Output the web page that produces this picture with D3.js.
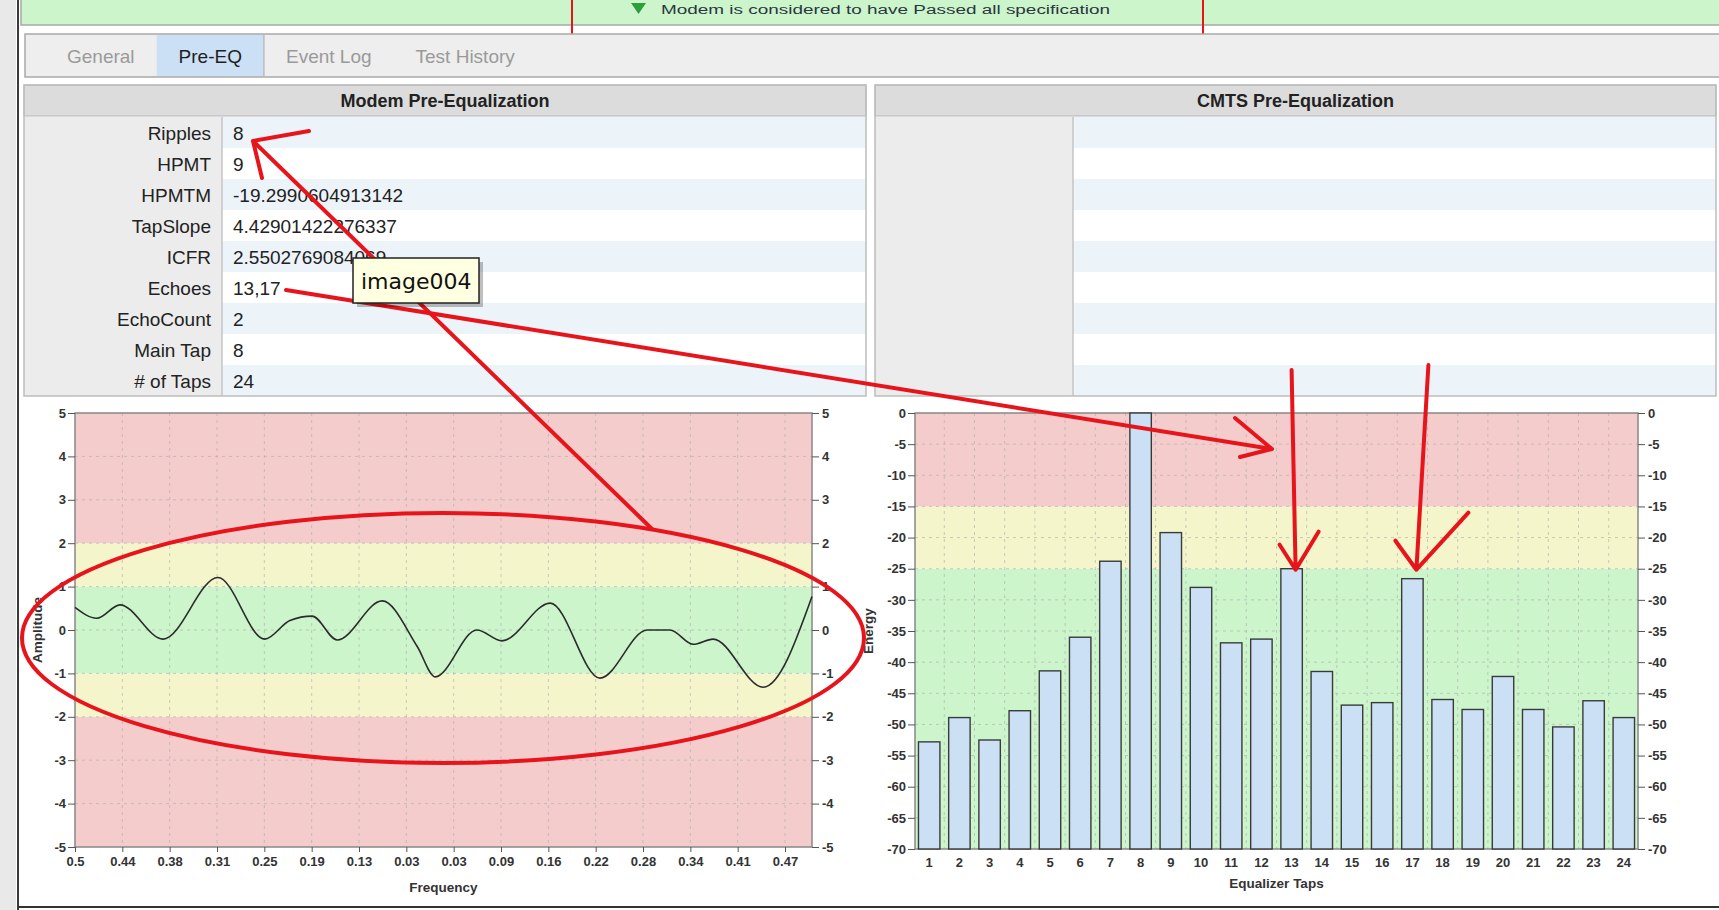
<!DOCTYPE html>
<html lang="en">
<head>
    <meta charset="UTF-8">
    <title>Pre-EQ</title>
    <script src="https://cdnjs.cloudflare.com/ajax/libs/d3/7.8.5/d3.min.js"></script>
    <style>
        html, body { margin: 0; padding: 0; background: #fff; overflow: hidden; }
        text { font-family: "Liberation Sans", Arial, sans-serif; }
    </style>
</head>
<body>
    <div id="wrapper"></div>
    <script>
        // 1. data
        const tabNames = ['General', 'Pre-EQ', 'Event Log', 'Test History']
        const activeTab = 'Pre-EQ'

        const statLabels = ['Ripples', 'HPMT', 'HPMTM', 'TapSlope', 'ICFR', 'Echoes', 'EchoCount', 'Main Tap', '# of Taps']
        const statValues = ['8', '9', '-19.2990604913142', '4.42901422276337', '2.5502769084069', '13,17', '2', '8', '24']

        const freqTickLabels = ['0.5', '0.44', '0.38', '0.31', '0.25', '0.19', '0.13', '0.03',
                                '0.03', '0.09', '0.16', '0.22', '0.28', '0.34', '0.41', '0.47']
        // amplitude response, x measured in frequency-tick steps
        const ampX = [0, 0.46, 0.95, 1.86, 3.02, 4.01, 4.54, 5.01, 5.54, 6.49, 7.23, 7.61, 8.49, 9.02, 10.04, 11.09, 12.09, 12.57, 13.06, 13.48, 14.54, 15.57]
        const ampY = [0.52, 0.27, 0.58, -0.21, 1.21, -0.21, 0.22, 0.32, -0.23, 0.67, -0.38, -1.08, 0.0, -0.25, 0.62, -1.11, 0.0, 0.0, -0.33, -0.21, -1.32, 0.77]
        const ampTicks = [5, 4, 3, 2, 1, 0, -1, -2, -3, -4, -5]
        const ampZoneEdges = [-5, -2, -1, 1, 2, 5]
        const ampZoneLevels = ['bad', 'warn', 'ok', 'warn', 'bad']

        const tapNumbers = [1, 2, 3, 4, 5, 6, 7, 8, 9, 10, 11, 12, 13, 14, 15, 16, 17, 18, 19, 20, 21, 22, 23, 24]
        const tapEnergy = [-52.8, -48.9, -52.5, -47.8, -41.4, -36.0, -23.8, 0, -19.2, -28.0, -36.9, -36.3,
                           -25.0, -41.5, -46.9, -46.5, -26.6, -46.0, -47.6, -42.3, -47.6, -50.4, -46.2, -48.9]
        const energyTicks = [0, -5, -10, -15, -20, -25, -30, -35, -40, -45, -50, -55, -60, -65, -70]
        const energyZoneEdges = [-70, -25, -15, 0]
        const energyZoneLevels = ['ok', 'warn', 'bad']
        const echoTaps = [13, 17]

        // 2. dimensions / colours
        const W = 1719, H = 910
        const zoneColor = { bad: '#f5cccc', warn: '#f5f5cc', ok: '#ccf5cc' }
        const red = '#e8141c'

        const svg = d3.select('#wrapper').append('svg')
            .attr('width', W).attr('height', H)
            .attr('viewBox', `0 0 ${W} ${H}`)

        // window chrome
        svg.append('rect').attr('x', 0).attr('y', 0).attr('width', 16).attr('height', H).attr('fill', '#e9e9e9')
        svg.append('line').attr('x1', 18).attr('x2', 18).attr('y1', 0).attr('y2', H)
            .attr('stroke', '#3a3a3a').attr('stroke-width', 2)

        // status bar (cut at the top of the screenshot)
        svg.append('rect').attr('x', 21).attr('y', -2).attr('width', W).attr('height', 27)
            .attr('fill', '#ccf5cc').attr('stroke', '#a8a8a8').attr('stroke-width', 1.5)
        svg.append('path').attr('d', 'M631,3 L646,3 L638.5,14 Z').attr('fill', '#2c9f3a')
        svg.append('text')
            .attr('x', 661).attr('y', 14)
            .attr('textLength', 449).attr('lengthAdjust', 'spacingAndGlyphs')
            .style('font-size', '12px').attr('fill', '#2b3540')
            .text('Modem is considered to have Passed all specification')
        svg.append('rect').attr('x', 572).attr('y', -4).attr('width', 631).attr('height', 61)
            .attr('fill', 'none').attr('stroke', red).attr('stroke-width', 2)

        // tab bar
        svg.append('rect').attr('x', 25).attr('y', 34).attr('width', W).attr('height', 43)
            .attr('fill', '#eeeeee').attr('stroke', '#a9a9a9').attr('stroke-width', 1.5)
        let tabX = 45
        tabNames.forEach(name => {
            const g = svg.append('g')
            const bg = g.append('rect').attr('y', 35).attr('height', 41)
            const t = g.append('text').attr('y', 63).style('font-size', '19px')
                .attr('fill', name === activeTab ? '#1e1e1e' : '#9a9a9a')
                .text(name)
            const tw = t.node().getComputedTextLength()
            t.attr('x', tabX + 22)
            if (name === activeTab) {
                bg.attr('x', tabX).attr('width', tw + 44).attr('fill', '#cce0f5')
                g.append('line').attr('x1', tabX + tw + 44).attr('x2', tabX + tw + 44).attr('y1', 35).attr('y2', 76)
                    .attr('stroke', '#a9a9a9')
            } else {
                bg.remove()
            }
            tabX += tw + 44
        })

        // 3. tables
        const rowTop = 117, rowH = 31
        function drawTable(x0, x1, splitX, title, labels, values) {
            const g = svg.append('g')
            g.append('rect').attr('x', x0).attr('y', 85).attr('width', x1 - x0).attr('height', 31)
                .attr('fill', '#dcdcdc').attr('stroke', '#b5b5b5')
            g.append('text').attr('x', (x0 + x1) / 2).attr('y', 107).attr('text-anchor', 'middle')
                .style('font-size', '18px').style('font-weight', 'bold').attr('fill', '#222')
                .text(title)
            d3.range(9).forEach(i => {
                const y = rowTop + i * rowH
                g.append('rect').attr('x', x0).attr('y', y).attr('width', splitX - x0).attr('height', rowH).attr('fill', '#ececec')
                g.append('rect').attr('x', splitX).attr('y', y).attr('width', x1 - splitX).attr('height', rowH)
                    .attr('fill', i % 2 === 0 ? '#edf4f9' : '#ffffff')
                if (labels[i]) g.append('text').attr('x', splitX - 11).attr('y', y + 23).attr('text-anchor', 'end')
                    .style('font-size', '19px').attr('fill', '#222').text(labels[i])
                if (values[i]) g.append('text').attr('x', splitX + 11).attr('y', y + 23)
                    .style('font-size', '19px').attr('fill', '#222').text(values[i])
            })
            g.append('line').attr('x1', splitX).attr('x2', splitX).attr('y1', rowTop).attr('y2', rowTop + 9 * rowH)
                .attr('stroke', '#c4c4c4').attr('stroke-width', 1.5)
            g.append('rect').attr('x', x0).attr('y', 85).attr('width', x1 - x0).attr('height', rowTop + 9 * rowH - 85)
                .attr('fill', 'none').attr('stroke', '#bdbdbd').attr('stroke-width', 1.5)
        }
        drawTable(24, 866, 222, 'Modem Pre-Equalization', statLabels, statValues)
        drawTable(875, 1716, 1073, 'CMTS Pre-Equalization', [], [])

        function styleAxis(sel) {
            sel.select('.domain').remove()
            sel.selectAll('.tick line').attr('stroke', '#555')
            sel.selectAll('.tick text').attr('fill', '#333')
                .style('font-size', '13px').style('font-weight', 'bold')
                .style('font-family', '"Liberation Sans", Arial, sans-serif')
        }

        // 4. amplitude chart
        const A = { left: 75, right: 812, top: 413, bottom: 847 }
        const xAmp = d3.scaleLinear().domain([0, 15.57]).range([A.left, A.right])
        const yAmp = d3.scaleLinear().domain([-5, 5]).range([A.bottom, A.top])
        const ampChart = svg.append('g')

        ampZoneLevels.forEach((lvl, i) => {
            ampChart.append('rect').attr('x', A.left).attr('width', A.right - A.left)
                .attr('y', yAmp(ampZoneEdges[i + 1])).attr('height', yAmp(ampZoneEdges[i]) - yAmp(ampZoneEdges[i + 1]))
                .attr('fill', zoneColor[lvl])
        })
        ampChart.selectAll('.vgrid').data(d3.range(1, freqTickLabels.length)).join('line')
            .attr('x1', d => xAmp(d)).attr('x2', d => xAmp(d)).attr('y1', A.top).attr('y2', A.bottom)
            .attr('stroke', '#aaa').attr('stroke-opacity', 0.6).attr('stroke-dasharray', '3,4')
        ampChart.selectAll('.hgrid').data(ampTicks.slice(1, -1)).join('line')
            .attr('x1', A.left).attr('x2', A.right).attr('y1', d => yAmp(d)).attr('y2', d => yAmp(d))
            .attr('stroke', '#aaa').attr('stroke-opacity', 0.6).attr('stroke-dasharray', '3,4')
        ampChart.append('rect').attr('x', A.left).attr('y', A.top)
            .attr('width', A.right - A.left).attr('height', A.bottom - A.top)
            .attr('fill', 'none').attr('stroke', '#888').attr('stroke-width', 1.5)

        const ampLine = d3.line()
            .x((d, i) => xAmp(ampX[i]))
            .y(d => yAmp(d))
            .curve(d3.curveMonotoneX)
        ampChart.append('path').attr('d', ampLine(ampY))
            .attr('fill', 'none').attr('stroke', '#2b2b2b').attr('stroke-width', 1.6)

        ampChart.append('g').attr('transform', `translate(${A.left},0)`)
            .call(d3.axisLeft(yAmp).tickValues(ampTicks).tickSize(7).tickPadding(2).tickFormat(d => String(d)))
            .call(styleAxis)
        ampChart.append('g').attr('transform', `translate(${A.right},0)`)
            .call(d3.axisRight(yAmp).tickValues(ampTicks).tickSize(7).tickPadding(3).tickFormat(d => String(d)))
            .call(styleAxis)
        ampChart.append('g').attr('transform', `translate(0,${A.bottom})`)
            .call(d3.axisBottom(xAmp).tickValues(d3.range(freqTickLabels.length)).tickSize(5).tickPadding(5)
                .tickFormat(i => freqTickLabels[i]))
            .call(styleAxis)
        ampChart.append('text').attr('x', (A.left + A.right) / 2).attr('y', 892).attr('text-anchor', 'middle')
            .style('font-size', '13.5px').style('font-weight', 'bold').attr('fill', '#333').text('Frequency')
        ampChart.append('text').attr('transform', `translate(37,${(A.top + A.bottom) / 2}) rotate(-90)`)
            .attr('text-anchor', 'middle').attr('dy', '0.35em')
            .style('font-size', '13.5px').style('font-weight', 'bold').attr('fill', '#333').text('Amplitude')

        // 5. tap energy chart
        const E = { left: 915, right: 1638, top: 413, bottom: 849 }
        const xTap = d3.scaleBand().domain(tapNumbers).range([E.left, E.right]).paddingInner(0.29).paddingOuter(0.115)
        const yTap = d3.scaleLinear().domain([-70, 0]).range([E.bottom, E.top])
        const tapChart = svg.append('g')

        energyZoneLevels.forEach((lvl, i) => {
            tapChart.append('rect').attr('x', E.left).attr('width', E.right - E.left)
                .attr('y', yTap(energyZoneEdges[i + 1])).attr('height', yTap(energyZoneEdges[i]) - yTap(energyZoneEdges[i + 1]))
                .attr('fill', zoneColor[lvl])
        })
        const gap = xTap.step() * xTap.paddingInner() / 2
        tapChart.selectAll('.vgrid').data(tapNumbers.slice(1)).join('line')
            .attr('x1', d => xTap(d) - gap).attr('x2', d => xTap(d) - gap).attr('y1', E.top).attr('y2', E.bottom)
            .attr('stroke', '#aaa').attr('stroke-opacity', 0.6).attr('stroke-dasharray', '3,4')
        tapChart.selectAll('.hgrid').data(energyTicks.slice(1, -1)).join('line')
            .attr('x1', E.left).attr('x2', E.right).attr('y1', d => yTap(d)).attr('y2', d => yTap(d))
            .attr('stroke', '#aaa').attr('stroke-opacity', 0.6).attr('stroke-dasharray', '3,4')
        tapChart.append('rect').attr('x', E.left).attr('y', E.top)
            .attr('width', E.right - E.left).attr('height', E.bottom - E.top)
            .attr('fill', 'none').attr('stroke', '#888').attr('stroke-width', 1.5)

        tapChart.selectAll('.bar').data(tapEnergy).join('rect')
            .attr('x', (d, i) => xTap(tapNumbers[i]))
            .attr('width', xTap.bandwidth())
            .attr('y', d => yTap(d))
            .attr('height', d => yTap(-70) - yTap(d))
            .attr('fill', '#cce0f5').attr('stroke', '#3a3a3a').attr('stroke-width', 1.4)

        tapChart.append('g').attr('transform', `translate(${E.left},0)`)
            .call(d3.axisLeft(yTap).tickValues(energyTicks).tickSize(7).tickPadding(2).tickFormat(d => String(d)))
            .call(styleAxis)
        tapChart.append('g').attr('transform', `translate(${E.right},0)`)
            .call(d3.axisRight(yTap).tickValues(energyTicks).tickSize(7).tickPadding(3).tickFormat(d => String(d)))
            .call(styleAxis)
        tapChart.append('g').attr('transform', `translate(0,${E.bottom})`)
            .call(d3.axisBottom(xTap).tickSize(0).tickPadding(9))
            .call(styleAxis)
        tapChart.append('text').attr('x', (E.left + E.right) / 2).attr('y', 888).attr('text-anchor', 'middle')
            .style('font-size', '13.5px').style('font-weight', 'bold').attr('fill', '#333').text('Equalizer Taps')
        tapChart.append('text').attr('transform', `translate(868,${(E.top + E.bottom) / 2}) rotate(-90)`)
            .attr('text-anchor', 'middle').attr('dy', '0.35em')
            .style('font-size', '13.5px').style('font-weight', 'bold').attr('fill', '#333').text('Energy')

        // bottom frame
        svg.append('line').attr('x1', 18).attr('x2', W).attr('y1', 907).attr('y2', 907)
            .attr('stroke', '#333').attr('stroke-width', 2)

        // 6. red hand-drawn annotations
        const notes = svg.append('g').attr('fill', 'none').attr('stroke', red)
            .attr('stroke-width', 4).attr('stroke-linecap', 'round').attr('stroke-linejoin', 'round')
        notes.append('ellipse').attr('cx', 443).attr('cy', 638).attr('rx', 421).attr('ry', 125)

        function arrow(from, tip, arm1, arm2) {
            notes.append('path').attr('d',
                `M${from[0]},${from[1]} L${tip[0]},${tip[1]}` +
                ` M${tip[0] + arm1[0]},${tip[1] + arm1[1]} L${tip[0]},${tip[1]} L${tip[0] + arm2[0]},${tip[1] + arm2[1]}`)
        }
        const valueRowY = i => rowTop + i * rowH
        // ellipse -> Ripples value
        arrow([652, 529], [253, valueRowY(0) + 24], [56, -10], [9, 37])
        // Echoes value -> energy chart
        arrow([286, valueRowY(5) + 18], [1272, 449], [-37, -31], [-32, 8])
        // echo taps
        const echoStart = [[-4, 370], [12, 365]]
        const echoArms = [[[-16, -25], [23, -38]], [[-21, -29], [52, -57]]]
        echoTaps.forEach((t, k) => {
            const tip = [xTap(t) + xTap.bandwidth() / 2 + 4, yTap(-25) + 1]
            arrow([tip[0] + echoStart[k][0], echoStart[k][1]], tip, echoArms[k][0], echoArms[k][1])
        })

        // 7. tooltip
        const tip = svg.append('g')
        tip.append('rect').attr('x', 357).attr('y', 262).attr('width', 126).attr('height', 45)
            .attr('fill', '#000').attr('opacity', 0.25)
        tip.append('rect').attr('x', 353).attr('y', 258).attr('width', 126).attr('height', 45)
            .attr('fill', '#ffffe1').attr('stroke', '#222').attr('stroke-width', 1.5)
        tip.append('text').attr('x', 361).attr('y', 289)
            .style('font-family', '"DejaVu Sans", sans-serif').style('font-size', '22px').attr('fill', '#111')
            .text('image004')
    </script>
</body>
</html>
